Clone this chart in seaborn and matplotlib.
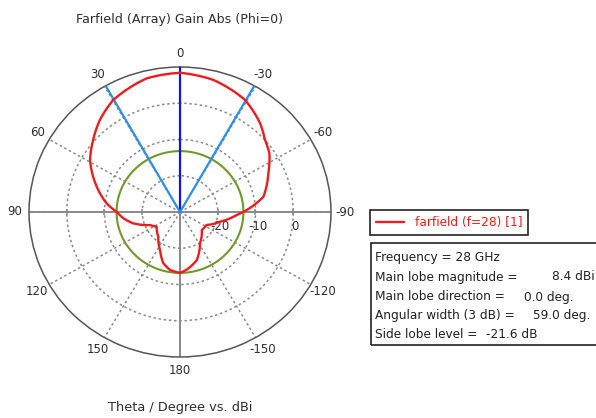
import numpy as np
import pandas as pd
import matplotlib
matplotlib.use("Agg")
import matplotlib.pyplot as plt
from matplotlib.patches import Rectangle
from matplotlib.lines import Line2D
import seaborn as sns

# Farfield cut (Phi = 0): theta in degrees, gain in dBi
theta_deg = [-180, -173.6, -161.5, -148.5, -130.8, -116.9, -104.2, -93.2, -88.2,
             -79.2, -65.5, -55.6, -48.6, -40.9, -29.1, -13.6, 0, 13.5, 29.8, 39.9,
             49.2, 59.0, 72.5, 83.0, 89.8, 96.6, 104.1, 114.3, 123.3, 139.8, 153.2,
             162.6, 170.6, 180]
gain_dbi = [-13.2, -14.0, -16.0, -19.9, -22.4, -22.1, -19.1, -15.0, -12.3,
            -7.5, -4.3, -1.3, 0.0, 2.4, 5.4, 7.5, 8.4, 7.9, 5.6, 3.1,
            0.4, -2.2, -6.9, -10.4, -13.2, -14.9, -17.2, -21.3, -22.6, -21.1, -18.3,
            -15.2, -13.8, -13.2]

# Summary values
freq_ghz = 28
main_lobe_mag = 8.4
main_lobe_dir = 0.0
beam_width_3db = 59.0
side_lobe_level = -21.6

# Axis scales and labels
r_min, r_max = -30, 10
r_grid = [-20, -10, 0]
angle_ticks = [0, 30, 60, 90, 120, 150, 180, -150, -120, -90, -60, -30]

sns.set_theme(style="white")
plt.rcParams["font.family"] = ["DejaVu Sans"]

W, H = 596, 418
fig = plt.figure(figsize=(W / 100, H / 100), dpi=100)
fig.patch.set_facecolor("white")


def fx(px):
    return px / W


def fy(py):
    return 1 - py / H


TXT = "#2e2e2e"
GRID = "#8a8a8a"
RED = "#ee1c1c"
FS = 8.7

ax = fig.add_axes([fx(29), fy(357), 302 / W, 290 / H], projection="polar")
ax.set_aspect("auto")
ax.set_theta_zero_location("N")
ax.set_theta_direction(1)
ax.set_ylim(r_min, r_max)
ax.set_facecolor("white")

# angular grid and labels
ax.set_xticks(np.deg2rad(np.mod(angle_ticks, 360)))
ax.set_xticklabels([str(a) for a in angle_ticks])
ax.set_yticks(r_grid)
ax.set_yticklabels([])
ax.grid(True, color=GRID, linestyle=(0, (1.6, 1.8)), linewidth=1.1)
ax.tick_params(axis="x", pad=3, labelsize=8.5, colors=TXT, length=0)
ax.spines["polar"].set_color("#555555")
ax.spines["polar"].set_linewidth(1.1)

# solid main axes
for a in [0, 90, 180, 270]:
    ax.plot([np.deg2rad(a)] * 2, [r_min, r_max], color=GRID, lw=1.4, zorder=2)

# small ticks on the horizontal axis
ax.plot(np.deg2rad([90] * 3 + [270] * 3), r_grid * 2, ls="none", marker="|",
        ms=4, mew=1.1, color=GRID, zorder=2)

# radial labels under the right half of the horizontal axis
for r in r_grid:
    ax.annotate(str(r), xy=(np.deg2rad(270), r), xytext=(1.5, -10.5),
                textcoords="offset points", ha="center", va="center",
                fontsize=8.5, color=TXT, annotation_clip=False)

# side lobe reference circle
circ_t = np.linspace(0, 2 * np.pi, 361)
ax.plot(circ_t, np.full_like(circ_t, main_lobe_mag + side_lobe_level),
        color="#6f9a2a", lw=1.5, zorder=3)

# main lobe direction and 3 dB beam width
ax.plot([np.deg2rad(main_lobe_dir)] * 2, [r_min, r_max], color="#1010ff", lw=1.6, zorder=4)
for s in (-1, 1):
    t = np.deg2rad(main_lobe_dir + s * beam_width_3db / 2)
    ax.plot([t, t], [r_min, r_max], color="#2f8fe8", lw=1.6, zorder=4)

# gain pattern
df = pd.DataFrame({"theta": np.deg2rad(theta_deg), "gain": gain_dbi})
sns.lineplot(data=df, x="theta", y="gain", ax=ax, sort=False, color=RED,
             lw=1.7, legend=False, zorder=5)
# draw segments as curves in polar space
ax.lines[-1].get_path()._interpolation_steps = 40
ax.set_xlabel("")
ax.set_ylabel("")

# titles
fig.text(fx(180), fy(19), "Farfield (Array) Gain Abs (Phi=0)", ha="center",
         va="center", fontsize=9.1, color=TXT)
fig.text(fx(180), fy(407), "Theta / Degree vs. dBi", ha="center", va="center",
         fontsize=9.3, color=TXT)

# legend
leg = fig.legend(handles=[Line2D([], [], color=RED, lw=1.7)],
                 labels=["farfield (f=28) [1]"], loc="upper left",
                 bbox_to_anchor=(fx(370), fy(210)), frameon=True, fancybox=False,
                 edgecolor="#222222", framealpha=1, fontsize=FS, handlelength=2.3,
                 handletextpad=0.9, borderpad=0.5, borderaxespad=0)
leg.get_frame().set_linewidth(1.2)
leg.get_texts()[0].set_color(RED)

# summary box (open to the right edge)
fig.add_artist(Rectangle((fx(371), fy(345)), (620 - 371) / W, (345 - 243) / H,
                         transform=fig.transFigure, fill=False,
                         edgecolor="#222222", lw=1.2, clip_on=False))
rows = [
    (f"Frequency = {freq_ghz} GHz", "", 0),
    ("Main lobe magnitude =", f"{main_lobe_mag:.1f} dBi", 552),
    ("Main lobe direction =", f"{main_lobe_dir:.1f} deg.", 524),
    ("Angular width (3 dB) =", f"{beam_width_3db:.1f} deg.", 533),
    ("Side lobe level =", f"{side_lobe_level:.1f} dB", 486),
]
row_y = [258, 277, 297, 316, 335]
for (lab, val, vx), y in zip(rows, row_y):
    fig.text(fx(375), fy(y), lab, ha="left", va="center", fontsize=FS, color="#222222")
    if val:
        fig.text(fx(vx), fy(y), val, ha="left", va="center", fontsize=FS, color="#222222")

fig.savefig("out.png", dpi=100)
